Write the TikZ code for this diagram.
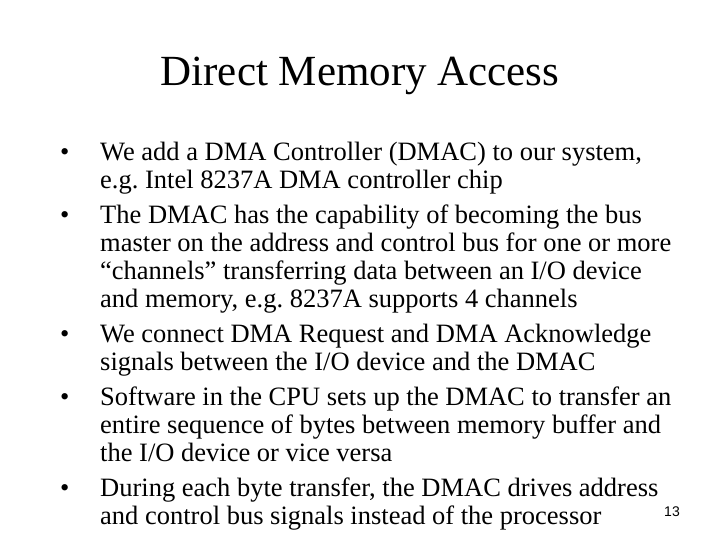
\documentclass[tikz,border=0pt]{standalone}
\usepackage{fontspec}
\setmainfont{Liberation Serif}
\newfontfamily\numfont{Liberation Sans}
\frenchspacing
\begin{document}
\begin{tikzpicture}[x=1pt,y=1pt,
  ln/.style={anchor=base west,inner sep=0pt,font=\fontsize{26.5}{30}\selectfont},
  bul/.style={anchor=base west,inner sep=0pt,font=\fontsize{26.5}{30}\selectfont}]
\useasboundingbox (0,0) rectangle (720,540);
\fill[white] (0,0) rectangle (720,540);
\node[inner sep=0pt,anchor=base,font=\fontsize{43}{46}\selectfont] (title) at (360,540-86) {Direct Memory Access};
\foreach \y/\n in {161/b1,224/b2,343/b3,406/b4,497/b5}{
  \node[bul] (\n) at (60,540-\y) {\textbullet};
}
\foreach \y/\t [count=\i] in {
161/{We add a DMA Controller (DMAC) to our system,},
189/{e.g. Intel 8237A DMA controller chip},
224/{The DMAC has the capability of becoming the bus},
252/{master on the address and control bus for one or more},
280/{“channels” transferring data between an I/O device},
308/{and memory, e.g. 8237A supports 4 channels},
343/{We connect DMA Request and DMA Acknowledge},
371/{signals between the I/O device and the DMAC},
406/{Software in the CPU sets up the DMAC to transfer an},
434/{entire sequence of bytes between memory buffer and},
462/{the I/O device or vice versa},
497/{During each byte transfer, the DMAC drives address},
525/{and control bus signals instead of the processor}}{
  \node[ln] (l\i) at (100,540-\y) {\t};
}
\node[inner sep=0pt,anchor=base,font=\numfont\fontsize{14}{16}\selectfont] (pg) at (672,540-517) {13};
\end{tikzpicture}
\end{document}
